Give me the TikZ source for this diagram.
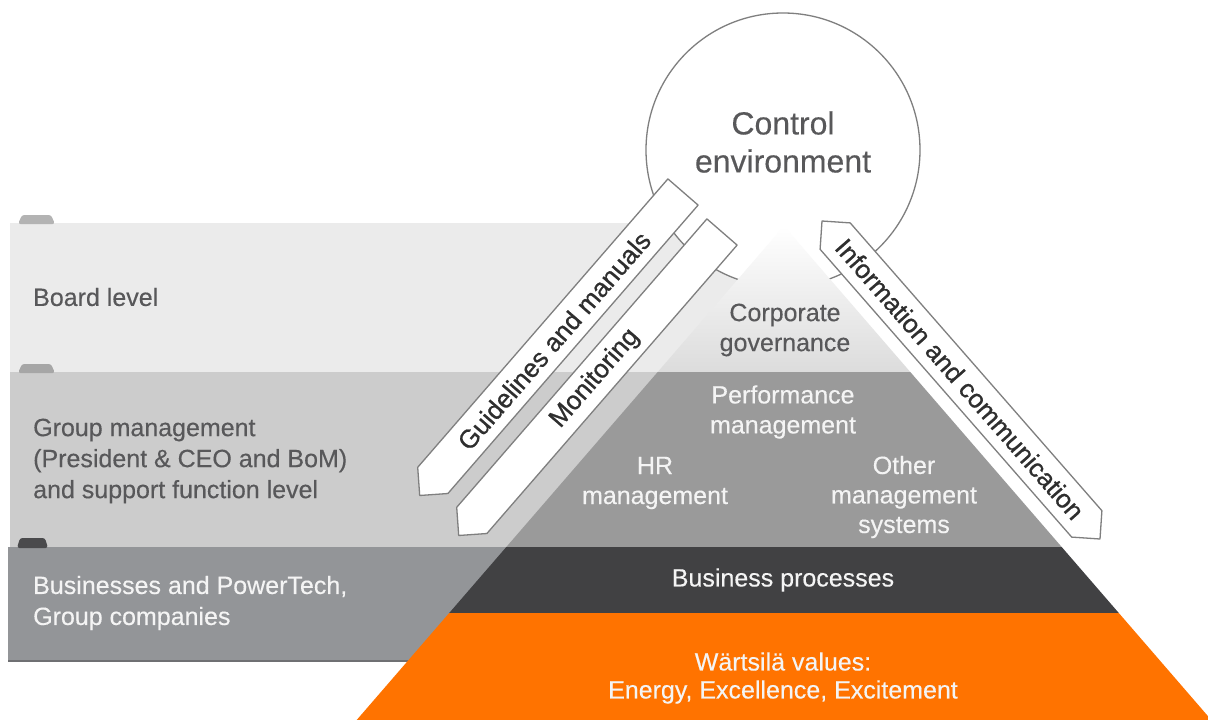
\documentclass[tikz,border=0pt]{standalone}
\usepackage{fontspec}
\setmainfont{Liberation Sans}
\newfontfamily\bannerfont{Liberation Sans}[FakeBold=0.8]
\newfontfamily\medfont{Liberation Sans}[FakeBold=0.3]
\definecolor{bandA}{HTML}{EBEBEB}
\definecolor{bandB}{HTML}{CCCCCC}
\definecolor{bandC}{HTML}{939598}
\definecolor{bandCedge}{HTML}{6F7073}
\definecolor{tabA}{HTML}{B3B3B3}
\definecolor{tabB}{HTML}{A6A6A6}
\definecolor{tabC}{HTML}{4A4A4C}
\definecolor{pyrtop}{HTML}{DCDCDC}
\definecolor{pyrmid}{HTML}{9A9A9A}
\definecolor{pyrdark}{HTML}{414143}
\definecolor{wartsila}{HTML}{FF7300}
\definecolor{outline}{HTML}{7F7F7F}
\definecolor{darktxt}{HTML}{58585A}
\definecolor{lighttxt}{HTML}{F4F4F4}
\definecolor{arrowtxt}{HTML}{2E2E2E}
\begin{document}
\begin{tikzpicture}[x=1pt,y=-1pt,
  lbl/.style={font=\medfont\fontsize{25}{30}\selectfont, inner sep=0pt, align=center},
  leftlbl/.style={font=\medfont\fontsize{25}{31}\selectfont, inner sep=0pt, align=left, anchor=west},
  banner/.style={fill=white, draw=outline, line width=1.3pt, line join=round},
  bannertext/.style={font=\bannerfont\fontsize{26}{30}\selectfont, text=arrowtxt, inner sep=0pt},
  tabshape/.style={rounded corners=2.5pt}]
\useasboundingbox (0,0) rectangle (1208,720);
\fill[white] (0,0) rectangle (1208,720);

% horizontal level bands
\fill[bandA] (10,223) rectangle (784,372);
\fill[bandB] (10,372) rectangle (784,547);
\fill[bandC] (8,547) rectangle (784,662);
\draw[bandCedge, line width=2pt] (8,661) -- (784,661);
% tabs
\fill[tabA, tabshape] (18,224) -- (22,215) -- (51,215) -- (55,224) -- cycle;
\fill[tabB, tabshape] (18,373) -- (22,364) -- (51,364) -- (55,373) -- cycle;
\fill[tabC, tabshape] (17,548) -- (20,538) -- (45,538) -- (48,548) -- cycle;

% control environment circle
\node[circle, draw=outline, fill=white, line width=1.3pt, minimum size=274pt, inner sep=0pt] (ctrl) at (783,150) {};
\node[lbl, font=\medfont\fontsize{32}{38}\selectfont, text=darktxt] (ctrltxt) at (783,142) {Control\\environment};

% pyramid
\shade[top color=white, bottom color=pyrtop] (784,226) -- (910.3,372) -- (657.7,372) -- cycle;
\fill[pyrmid] (657.7,372) -- (910.3,372) -- (1061.7,547) -- (506.3,547) -- cycle;
\fill[pyrdark] (506.3,547) -- (1061.7,547) -- (1118.8,613) -- (449.2,613) -- cycle;
\fill[wartsila] (449.2,613) -- (1118.8,613) -- (1211.3,720) -- (356.7,720) -- cycle;

% banners
\draw[banner] (667.9,178.9) -- (698.1,205.1) -- (447.9,493.5) -- (419.7,495.5) -- (417.7,467.3) -- cycle;
\draw[banner] (706.9,218.9) -- (737.1,245.1) -- (486.9,533.5) -- (458.7,535.5) -- (456.7,507.3) -- cycle;
\draw[banner] (822,221) -- (850.2,222.9) -- (1101.9,510.7) -- (1100,539) -- (1071.7,537.1) -- (820.1,249.3) -- cycle;
\node[bannertext, rotate=49.06] (guide) at (554,340.7) {Guidelines and manuals};
\node[bannertext, rotate=49.06] (monit) at (595,378.5) {Monitoring};
\node[bannertext, rotate=-48.85] (info) at (960,379) {Information and communication};

% band labels
\node[leftlbl, text=darktxt] (board) at (33,297) {Board level};
\node[leftlbl, text=darktxt] (group) at (33,461) {Group management\\(President \& CEO and BoM)\\and support function level};
\node[leftlbl, text=lighttxt] (biz) at (33,603) {Businesses and PowerTech,\\Group companies};

% pyramid labels
\node[lbl, text=darktxt] (corp) at (785,330) {Corporate\\governance};
\node[lbl, text=lighttxt] (perf) at (783,412) {Performance\\management};
\node[lbl, text=lighttxt] (hr) at (655,483) {HR\\management};
\node[lbl, font=\medfont\fontsize{25}{29.5}\selectfont, text=lighttxt] (other) at (904,497) {Other\\management\\systems};
\node[lbl, text=lighttxt] (proc) at (783,580) {Business processes};
\node[lbl, font=\medfont\fontsize{25}{28}\selectfont, text=lighttxt] (values) at (783,678) {Wärtsilä values:\\Energy, Excellence, Excitement};
\end{tikzpicture}
\end{document}
